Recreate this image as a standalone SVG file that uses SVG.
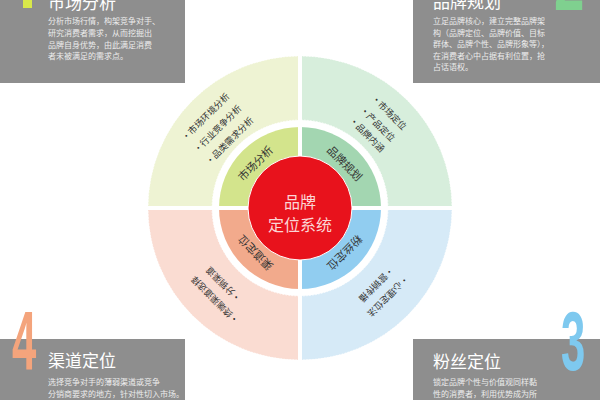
<svg xmlns="http://www.w3.org/2000/svg" width="600" height="400" viewBox="0 0 600 400">
<style>
text{font-family:"Noto Sans CJK SC","Noto Sans",sans-serif;}
.box{fill:#8e8e8e;}
.ttl{fill:#ffffff;font-size:17px;}
.body{fill:#ececec;font-size:8px;}
.num{font-family:"Liberation Sans","Noto Sans",sans-serif;font-size:84px;font-weight:bold;}
.item{fill:#333;font-size:9px;}
.lbl{fill:#333;font-size:11px;text-anchor:middle;}
.osec{stroke:#ffffff;stroke-width:1;stroke-dasharray:1.5 1.5;stroke-opacity:0.8;}
.ctr{fill:#fbd6d6;font-size:16px;text-anchor:middle;}
</style>
<rect width="600" height="400" fill="#ffffff"/>

<g id="ring">
  <path class="osec" d="M148 208 A152 152 0 0 1 300 56 L300 120 A88 88 0 0 0 212 208 Z" fill="#eef3d3"/>
  <path class="osec" d="M300 56 A152 152 0 0 1 452 208 L388 208 A88 88 0 0 0 300 120 Z" fill="#d7eedc"/>
  <path class="osec" d="M452 208 A152 152 0 0 1 300 360 L300 296 A88 88 0 0 0 388 208 Z" fill="#d6eaf7"/>
  <path class="osec" d="M300 360 A152 152 0 0 1 148 208 L212 208 A88 88 0 0 0 300 296 Z" fill="#fadcd2"/>
  <path d="M300 208 L219 208 A81 81 0 0 1 300 127 Z" fill="#d3e48c"/>
  <path d="M300 208 L300 127 A81 81 0 0 1 381 208 Z" fill="#a3d6b1"/>
  <path d="M300 208 L381 208 A81 81 0 0 1 300 289 Z" fill="#91cdf0"/>
  <path d="M300 208 L300 289 A81 81 0 0 1 219 208 Z" fill="#f2aa8c"/>
  <rect x="298" y="50" width="4" height="316" fill="#ffffff"/>
  <rect x="142" y="206" width="316" height="4" fill="#ffffff"/>
</g>

<g id="center">
  <circle cx="300" cy="208" r="52" fill="#e8121c" stroke="#ffffff" stroke-width="1"/>
  <text class="ctr" x="300" y="208">品牌</text>
  <text class="ctr" x="300" y="231">定位系统</text>
</g>

<g id="q1-items">
  <text class="item" transform="translate(185.5,141.5) rotate(-45)">•市场环境分析</text>
  <text class="item" transform="translate(197.5,153.5) rotate(-45)">•行业竞争分析</text>
  <text class="item" transform="translate(209.5,165.5) rotate(-45)">•品类需求分析</text>
  <text class="lbl" transform="translate(258.3,166.3) rotate(-45)">市场分析</text>
</g>
<g id="q2-items">
  <text class="item" transform="translate(370.9,98.9) rotate(45)">•市场定位</text>
  <text class="item" transform="translate(359.4,110.4) rotate(45)">•产品定位</text>
  <text class="item" transform="translate(348.8,121) rotate(45)">•品牌内涵</text>
  <text class="lbl" transform="translate(341.7,166.3) rotate(45)">品牌规划</text>
</g>
<g id="q3-items">
  <text class="item" text-anchor="middle" transform="translate(374.1,282.1) rotate(135)">•营销传播</text>
  <text class="item" text-anchor="middle" transform="translate(385.8,293.8) rotate(135)">•心理定位法</text>
  <text class="lbl" transform="translate(341.7,249.7) rotate(135)">粉丝定位</text>
</g>
<g id="q4-items">
  <text class="item" text-anchor="middle" transform="translate(225.9,282.1) rotate(225)">•分销渠道</text>
  <text class="item" text-anchor="middle" transform="translate(217.4,297.6) rotate(225)">•终端渠道选择</text>
  <text class="lbl" transform="translate(258.3,249.7) rotate(225)">渠道定位</text>
</g>

<g id="box1">
  <rect class="box" x="0" y="0" width="185" height="83"/>
  <rect x="23" y="0" width="9" height="8" fill="#d8e84a"/>
  <text class="ttl" x="48" y="9">市场分析</text>
  <text class="body" x="48" y="24">分析市场行情，构架竞争对手、</text>
  <text class="body" x="48" y="36">研究消费者需求，从而挖掘出</text>
  <text class="body" x="48" y="48">品牌自身优势，由此满足消费</text>
  <text class="body" x="48" y="59">者未被满足的需求点。</text>
</g>

<g id="box2">
  <rect class="box" x="413" y="0" width="187" height="83"/>
  <text class="num" transform="translate(554,10) scale(0.65,1)" fill="#7fd08f">2</text>
  <text class="ttl" x="433" y="8">品牌规划</text>
  <text class="body" x="433" y="24">立足品牌核心，建立完整品牌架</text>
  <text class="body" x="433" y="36">构（品牌定位、品牌价值、目标</text>
  <text class="body" x="433" y="47">群体、品牌个性、品牌形象等），</text>
  <text class="body" x="433" y="59">在消费者心中占据有利位置，抢</text>
  <text class="body" x="433" y="70">占话语权。</text>
</g>

<g id="box4">
  <rect class="box" x="0" y="339" width="185" height="61"/>
  <text class="num" transform="translate(12,370) scale(0.52,1)" fill="#f4a47c">4</text>
  <text class="ttl" x="48" y="367">渠道定位</text>
  <text class="body" x="48" y="385">选择竞争对手的薄弱渠道或竞争</text>
  <text class="body" x="48" y="397">分销商要求的地方，针对性切入市场。</text>
</g>

<g id="box3">
  <rect class="box" x="413" y="339" width="187" height="61"/>
  <text class="num" transform="translate(561,370) scale(0.52,1)" fill="#7ec9ef">3</text>
  <text class="ttl" x="433" y="368">粉丝定位</text>
  <text class="body" x="433" y="385">锁定品牌个性与价值观同样黏</text>
  <text class="body" x="433" y="397">性的消费者，利用优势成为所</text>
</g>
</svg>
